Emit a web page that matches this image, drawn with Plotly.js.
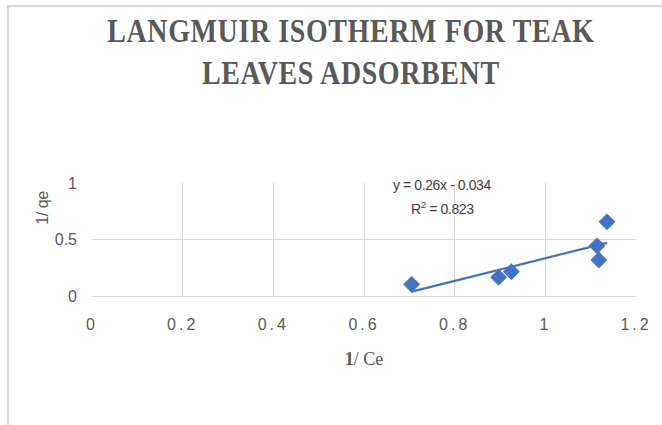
<!DOCTYPE html>
<html><head><meta charset="utf-8">
<script src="https://cdn.plot.ly/plotly-3.0.1.min.js"></script>
<style>
body{margin:0;padding:0;background:#fff;}
#wrap{position:relative;width:662px;height:425px;}
#chart{position:absolute;left:0;top:0;width:662px;height:425px;}
#frame{position:absolute;left:7px;top:5px;width:660px;height:425px;border-top:2px solid #d9d9d9;border-left:2px solid #d9d9d9;pointer-events:none;}
.xtick text{letter-spacing:3px;}
.gtitle{transform-box:fill-box;transform-origin:50% 0;transform:scaleY(1.17);letter-spacing:0.6px;}
.annotation-text{letter-spacing:-0.4px;}
</style></head>
<body><div id="wrap"><div id="chart"></div><div id="frame"></div></div>
<script>
const xValues = [0.705, 0.897, 0.925, 1.114, 1.118, 1.136];
const yValues = [0.103, 0.165, 0.215, 0.444, 0.318, 0.656];
const xTickVals = [0, 0.2, 0.4, 0.6, 0.8, 1, 1.2];
const xTickText = ['0', '0.2', '0.4', '0.6', '0.8', '1', '1.2'];
const yTickVals = [0, 0.5, 1];
const yTickText = ['0', '0.5', '1'];
const equationText = 'y = 0.26x - 0.034';
const r2Text = 'R<sup>2</sup> = 0.823';
const yTitleText = '1/ qe';

// least-squares trendline from the data
const n = xValues.length;
const mx = xValues.reduce((a,b)=>a+b,0)/n;
const my = yValues.reduce((a,b)=>a+b,0)/n;
let sxy=0, sxx=0;
for(let i=0;i<n;i++){sxy+=(xValues[i]-mx)*(yValues[i]-my);sxx+=(xValues[i]-mx)**2;}
const slope = sxy/sxx, icpt = my - slope*mx;
const xMin = Math.min(...xValues), xMax = Math.max(...xValues);
const trendX = [xMin, xMax];
const trendY = trendX.map(x=>slope*x+icpt);

const blue = '#4472C4';
const data = [
  {x: xValues, y: yValues, type:'scatter', mode:'markers',
   marker:{symbol:'diamond', size:13, color:blue}, hoverinfo:'skip'},
  {x: trendX, y: trendY, type:'scatter', mode:'lines',
   line:{color:blue, width:2.2}, hoverinfo:'skip'}
];
const tickFont = {family:'"Liberation Sans", sans-serif', size:16, color:'#595959'};
const layout = {
  width:662, height:425,
  margin:{l:91.5, r:25.5, t:182.7, b:129, pad:0},
  paper_bgcolor:'#fff', plot_bgcolor:'#fff',
  showlegend:false,
  title:{text:'LANGMUIR ISOTHERM FOR TEAK<br>LEAVES ADSORBENT',
    font:{family:'"Liberation Serif", "Times New Roman", serif', size:28, color:'#595959', weight:'bold'},
    x:0.53, xanchor:'center', y:0.912, yanchor:'top'},
  xaxis:{range:[0,1.2], tickvals:xTickVals, ticktext:xTickText, tickfont:tickFont,
    showgrid:true, gridcolor:'#d9d9d9', gridwidth:1, zeroline:false,
    showline:true, linecolor:'#d9d9d9', linewidth:1, ticks:'', ticklen:0, ticklabelstandoff:14,
    title:{text:'<b>1</b>/ Ce', font:{family:'"Liberation Serif", serif', size:18, color:'#595959'}, standoff:20}},
  yaxis:{range:[0,1], tickvals:yTickVals, ticktext:yTickText, tickfont:tickFont,
    showgrid:true, gridcolor:'#d9d9d9', gridwidth:1, zeroline:false,
    showline:false, ticks:'', ticklabelstandoff:14},
  annotations:[
    {xref:'paper', yref:'paper', x:(441.7-91.5)/545, y:(296-185)/113.3, text:equationText, showarrow:false,
     font:{family:'"Liberation Sans", sans-serif', size:14, color:'#404040'}, xanchor:'center', yanchor:'middle'},
    {xref:'paper', yref:'paper', x:(443-91.5)/545, y:(296-208)/113.3, text:r2Text, showarrow:false,
     font:{family:'"Liberation Sans", sans-serif', size:14, color:'#404040'}, xanchor:'center', yanchor:'middle'},
    {xref:'paper', yref:'paper', x:(42-91.5)/545, y:(296-208)/113.3, text:yTitleText, showarrow:false, textangle:-90,
     font:{family:'"Liberation Sans", sans-serif', size:16, color:'#595959'}, xanchor:'center', yanchor:'middle'}
  ]
};
Plotly.newPlot('chart', data, layout, {displayModeBar:false, staticPlot:true});
</script></body></html>
